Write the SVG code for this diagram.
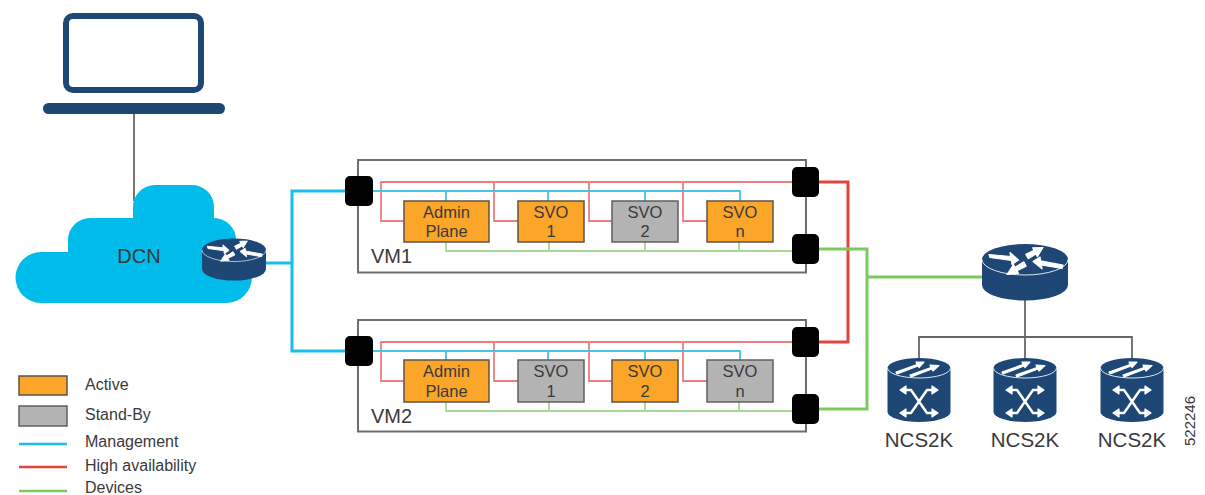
<svg xmlns="http://www.w3.org/2000/svg" width="1205" height="495" viewBox="0 0 1205 495">
<style>
text{font-family:"Liberation Sans",Arial,sans-serif;fill:#3a3a3a}
.vm{fill:#fff;stroke:#6e6e6e;stroke-width:2}
.port{fill:#000}
.act{fill:#fba629;stroke:#5c5348;stroke-width:1.5}
.stb{fill:#b3b3b3;stroke:#5f5f5f;stroke-width:1.5}
.lbl{font-size:16.500px;text-anchor:middle}
.big{font-size:20px}
.leg{font-size:16px}
.ncs{font-size:20.500px;text-anchor:middle}
path,line{fill:none}
.mg{stroke:#45c3ea;stroke-width:1.800}
.ha{stroke:#ef7d7f;stroke-width:1.800}
.dv{stroke:#a8d992;stroke-width:1.800}
.mgo{stroke:#19bdec;stroke-width:3}
.hao{stroke:#e8423f;stroke-width:3}
.dvo{stroke:#7cc95d;stroke-width:3}
.gr{stroke:#666;stroke-width:1.800}
.ed{stroke:#fff;stroke-width:1;opacity:.85}
.w{fill:#fff;stroke:#fff;stroke-width:1.200;stroke-linejoin:round}
</style>
<defs>
<g id="router">
<path style="fill:#1f4776" d="M-43 0V25.500A43 15.500 0 0 0 43 25.500V0A43 15.500 0 0 0-43 0Z"/>
<path class="ed" d="M-43 0A43 15.500 0 0 0 43 0"/>
<polygon class="w" points="-36,-5 -14.400,-3 -15,-7 -6.500,.5 -13,5 -13.600,1 -35,-2"/>
<polygon class="w" points="8,2 15,-2.500 15.600,1.400 38,5.500 37,9 16.400,5.400 17,9.300"/>
<polygon class="w" points="18,-12 7.600,-11.700 9.100,-9.100 .8,-5.200 3.200,-.8 10.900,-5.500 12.400,-2.900"/>
<polygon class="w" points="-18,15 -11.500,5.100 -10,7.800 -1.200,2.300 1.200,6.700 -8,11.200 -6.500,13.900"/>
</g>
<g id="ncs">
<path style="fill:#1f4776" d="M-31.500 0V44A31.500 10 0 0 0 31.500 44V0A31.500 10 0 0 0-31.500 0Z"/>
<path class="ed" d="M-31.500 0A31.500 10 0 0 0 31.500 0"/>
<polygon class="w" points="-23,4 -2,-3.500 -3,-6 5,-6 0,-.5 -1,-2 -22,6"/>
<polygon class="w" points="-9,7 12,-.5 11,-3 20,-2.500 14,3 13,1 -8,9"/>
<path style="fill:none;stroke:#fff;stroke-width:2.500" d="M-14 22H-8L8 45H14M14 22H8L-8 45H-14"/>
<polygon class="w" points="-19,22 -13,18 -13,26"/>
<polygon class="w" points="19,22 13,18 13,26"/>
<polygon class="w" points="-19,45 -13,41 -13,49"/>
<polygon class="w" points="19,45 13,41 13,49"/>
</g>
</defs>

<g id="vm1"><rect class="vm" x="358" y="160" width="448" height="112.500"/><text class="big" x="371" y="263">VM1</text></g>
<g id="vm2"><rect class="vm" x="358" y="320" width="448" height="111.500"/><text class="big" x="371" y="423">VM2</text></g>

<g id="connectors">
<line class="gr" x1="134" y1="114" x2="134" y2="201"/>
<path class="mgo" d="M265 263H292M345 191H292V351H345"/>
<path class="ha" d="M792 182H381V221H404M494 182V221H518M589 182V221H612M683 182V221H707"/>
<path class="mg" d="M372 191H740V201M446 191V201M548 191V201M645 191V201"/>
<path class="dv" d="M446 242V251H792M549 242V251M645 242V251M739 242V251"/>
<path class="ha" d="M792 342H381V381H404M494 342V381H518M589 342V381H612M683 342V381H707"/>
<path class="mg" d="M372 351H740V360M446 351V360M548 351V360M645 351V360"/>
<path class="dv" d="M446 402V411H792M549 402V411M645 402V411M739 402V411"/>
<path class="hao" d="M819 182H848V342H819"/>
<path class="dvo" d="M819 249H867V409H819M867 277H984"/>
<path class="gr" d="M1025 300V358M919 358V337H1132V358"/>
</g>

<g id="laptop">
<rect x="66" y="16" width="135" height="74" rx="7" fill="#fff" stroke="#1f4776" stroke-width="6"/>
<rect x="43" y="103" width="182" height="11" rx="5.500" fill="#1f4776"/>
</g>

<g id="dcn">
<path d="M41 303H226A26 26 0 0 0 252 277Q252 262 236 240A22 22 0 0 0 214 218V207A22 22 0 0 0 191 185H155A22 22 0 0 0 133 207V218H90A22 22 0 0 0 68 240V252H41A25.500 25.500 0 0 0 41 303Z" style="fill:#00bceb"/>
<text class="big" x="139" y="263" text-anchor="middle">DCN</text>
</g>
<g id="dcn-router"><use href="#router" transform="translate(234 250) scale(.744)"/></g>

<g id="port-vm1-l"><rect class="port" x="345" y="176" width="28" height="30" rx="5"/></g>
<g id="port-vm1-ha"><rect class="port" x="792" y="167" width="27" height="30" rx="5"/></g>
<g id="port-vm1-dv"><rect class="port" x="792" y="234" width="27" height="30" rx="5"/></g>
<g id="port-vm2-l"><rect class="port" x="345" y="336" width="28" height="30" rx="5"/></g>
<g id="port-vm2-ha"><rect class="port" x="792" y="327" width="27" height="30" rx="5"/></g>
<g id="port-vm2-dv"><rect class="port" x="792" y="394" width="27" height="30" rx="5"/></g>

<g id="vm1-admin"><rect class="act" x="404" y="201" width="85" height="41"/><text class="lbl" x="446.500" y="218">Admin</text><text class="lbl" x="446.500" y="237">Plane</text></g>
<g id="vm1-svo1"><rect class="act" x="518" y="201" width="66" height="41"/><text class="lbl" x="551" y="218">SVO</text><text class="lbl" x="551" y="237">1</text></g>
<g id="vm1-svo2"><rect class="stb" x="612" y="201" width="66" height="41"/><text class="lbl" x="645" y="218">SVO</text><text class="lbl" x="645" y="237">2</text></g>
<g id="vm1-svon"><rect class="act" x="707" y="201" width="66" height="41"/><text class="lbl" x="740" y="218">SVO</text><text class="lbl" x="740" y="237">n</text></g>

<g id="vm2-admin"><rect class="act" x="404" y="360" width="85" height="42"/><text class="lbl" x="446.500" y="377">Admin</text><text class="lbl" x="446.500" y="397">Plane</text></g>
<g id="vm2-svo1"><rect class="stb" x="518" y="360" width="66" height="42"/><text class="lbl" x="551" y="377">SVO</text><text class="lbl" x="551" y="397">1</text></g>
<g id="vm2-svo2"><rect class="act" x="612" y="360" width="66" height="42"/><text class="lbl" x="645" y="377">SVO</text><text class="lbl" x="645" y="397">2</text></g>
<g id="vm2-svon"><rect class="stb" x="707" y="360" width="66" height="42"/><text class="lbl" x="740" y="377">SVO</text><text class="lbl" x="740" y="397">n</text></g>

<g id="core-router"><use href="#router" transform="translate(1025 259.500)"/></g>
<g id="ncs1"><use href="#ncs" transform="translate(919 368)"/><text class="ncs" x="919" y="447">NCS2K</text></g>
<g id="ncs2"><use href="#ncs" transform="translate(1025 368)"/><text class="ncs" x="1025" y="447">NCS2K</text></g>
<g id="ncs3"><use href="#ncs" transform="translate(1132 368)"/><text class="ncs" x="1132" y="447">NCS2K</text></g>
<text x="1195" y="421" font-size="15" text-anchor="middle" transform="rotate(-90 1195 421)">522246</text>

<g id="legend">
<rect class="act" x="19" y="376" width="48" height="19"/>
<rect class="stb" x="19" y="406" width="48" height="20"/>
<line class="mgo" style="stroke-width:2.500" x1="19" y1="444" x2="67" y2="444"/>
<line class="hao" style="stroke-width:2.500" x1="19" y1="467" x2="67" y2="467"/>
<line class="dvo" style="stroke-width:2.500" x1="19" y1="491" x2="67" y2="491"/>
<text class="leg" x="85" y="390">Active</text>
<text class="leg" x="85" y="420">Stand-By</text>
<text class="leg" x="85" y="447">Management</text>
<text class="leg" x="85" y="471">High availability</text>
<text class="leg" x="85" y="493">Devices</text>
</g>
</svg>
